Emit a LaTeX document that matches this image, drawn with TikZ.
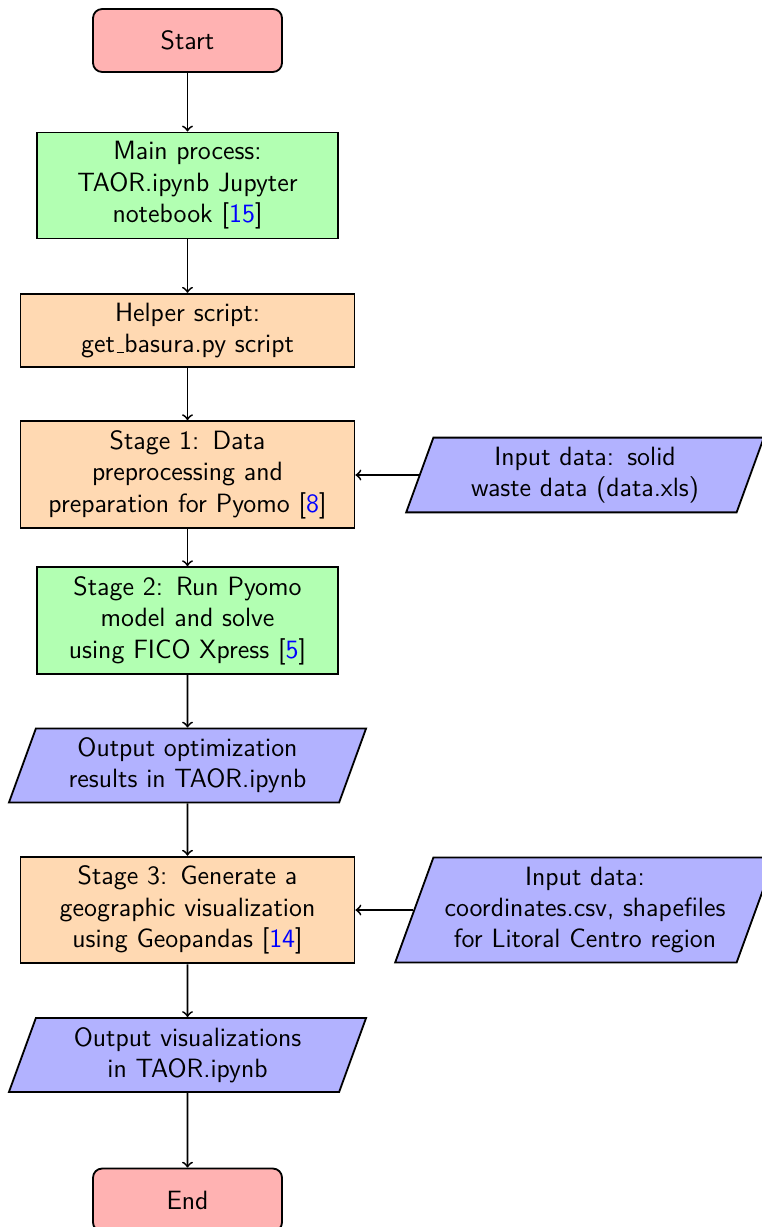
\documentclass[tikz,border=0pt]{standalone}
\usetikzlibrary{shapes.geometric}
\colorlet{rosaT}{red!30}
\colorlet{verdeT}{green!30}
\colorlet{naranjaT}{orange!30}
\colorlet{azulT}{blue!30}
\newcommand{\cita}[1]{\textcolor{blue}{#1}}
\newcommand{\guionbajo}{\leavevmode\kern.06em\vbox{\hrule width.3em}}

\begin{document}
\begin{tikzpicture}[x=0.4386pt,y=-0.4386pt,>=to,
    font=\sffamily\fontsize{11.6}{13.8}\selectfont,
    inicio/.style={draw,thick,rounded corners,fill=rosaT,minimum width=82.9pt,minimum height=27.6pt},
    proceso/.style={draw,thick,fill=verdeT,text width=128pt,inner xsep=2pt,align=center,inner ysep=4pt},
    etapa/.style={draw,thick,fill=naranjaT,text width=142.5pt,inner xsep=2pt,align=center,inner ysep=4pt},
    datos/.style={draw,thick,fill=azulT,trapezium,trapezium left angle=70,trapezium right angle=110,
      text width=129pt,inner xsep=2pt,align=center,inner ysep=4pt},
    flecha/.style={->,thick}]
  \useasboundingbox (0,0) rectangle (761,1227);
  \node[inicio] (inicio) at (187.5,40.5) {Start};
  \node[proceso] (principal) at (187.5,185.5) {Main process:\\ TAOR.ipynb Jupyter\\ notebook [\cita{15}]};
  \node[etapa] (ayudante) at (187.5,330.5) {Helper script:\\ get\guionbajo basura.py script};
  \node[etapa] (etapa1) at (187.5,474.5) {Stage 1: Data\\ preprocessing and\\ preparation for Pyomo [\cita{8}]};
  \node[datos] (datos1) at (585,475) {Input data: solid\\ waste data (data.xls)};
  \node[proceso] (etapa2) at (187.5,620.5) {Stage 2: Run Pyomo\\ model and solve\\ using FICO Xpress [\cita{5}]};
  \node[datos] (salida1) at (187.5,765.5) {Output optimization\\ results in TAOR.ipynb};
  \node[etapa] (etapa3) at (187.5,910) {Stage 3: Generate a\\ geographic visualization\\ using Geopandas [\cita{14}]};
  \node[datos] (datos2) at (585,910) {Input data:\\ coordinates.csv, shapefiles\\ for Litoral Centro region};
  \node[datos] (salida2) at (187.5,1055) {Output visualizations\\ in TAOR.ipynb};
  \node[inicio] (fin) at (187.5,1200) {End};
  \draw[flecha] (inicio) -- (principal);
  \draw[flecha] (principal) -- (ayudante);
  \draw[flecha] (ayudante) -- (etapa1);
  \draw[flecha] (datos1.west) -- (datos1.west -| etapa1.east);
  \draw[flecha] (etapa1) -- (etapa2);
  \draw[flecha] (etapa2) -- (salida1);
  \draw[flecha] (salida1) -- (etapa3);
  \draw[flecha] (datos2.west) -- (datos2.west -| etapa3.east);
  \draw[flecha] (etapa3) -- (salida2);
  \draw[flecha] (salida2) -- (fin);
\end{tikzpicture}
\end{document}
